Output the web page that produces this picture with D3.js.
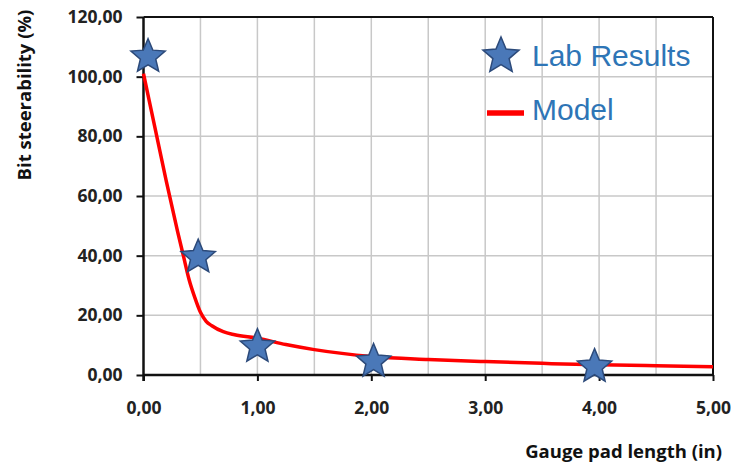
<!DOCTYPE html>
<html>
<head>
<meta charset="utf-8">
<script src="https://cdn.jsdelivr.net/npm/d3@7"></script>
<style>
  html, body { margin: 0; padding: 0; background: #fff; }
  svg { display: block; }
</style>
</head>
<body>
<svg id="chart" width="735" height="466"></svg>
<script>
// ---- data ----
const labX = [0.04, 0.48, 1.0, 2.02, 3.96];
const labY = [106.7, 39.5, 9.5, 4.5, 2.8];

const modelX = [0, 0.1, 0.2, 0.3, 0.35, 0.4, 0.45, 0.5, 0.55, 0.6, 0.7, 0.8, 1.0, 1.25, 1.5, 2.0, 2.5, 3.0, 3.5, 4.0, 4.5, 5.0];
const modelY = [101, 83, 65, 48, 40, 32, 26, 21, 18, 16.5, 14.5, 13.5, 12.3, 10.2, 8.5, 6.2, 5.2, 4.5, 3.9, 3.4, 3.1, 2.8];

const xTicks = [0, 1, 2, 3, 4, 5];
const xTickLabels = ["0,00", "1,00", "2,00", "3,00", "4,00", "5,00"];
const xGrid = [0.5, 1, 1.5, 2, 2.5, 3, 3.5, 4, 4.5];
const yTicks = [0, 20, 40, 60, 80, 100, 120];
const yTickLabels = ["0,00", "20,00", "40,00", "60,00", "80,00", "100,00", "120,00"];

const seriesNames = ["Lab Results", "Model"];
const xTitle = "Gauge pad length (in)";
const yTitle = "Bit steerability (%)";

(function () {
// ---- layout ----
const svg = d3.select("#chart");
const pL = 143.5, pR = 713, pT = 17, pB = 375;
const x = d3.scaleLinear().domain([0, 5]).range([pL, pR]);
const y = d3.scaleLinear().domain([0, 120]).range([pB, pT]);

const labelFont = "'Open Sans', 'DejaVu Sans', sans-serif";
const starFill = "#4a78b8", starStroke = "#2c4a7a";

function starPath(R) {
  const pts = [];
  const r = R * 0.45;
  for (let i = 0; i < 10; i++) {
    const a = -Math.PI / 2 + i * Math.PI / 5;
    const rr = i % 2 === 0 ? R : r;
    pts.push([Math.cos(a) * rr, Math.sin(a) * rr]);
  }
  return d3.line()(pts) + "Z";
}

// gridlines
const grid = svg.append("g");
grid.selectAll("line.v").data(xGrid).join("line").attr("class", "v")
  .attr("x1", d => x(d)).attr("x2", d => x(d))
  .attr("y1", pT).attr("y2", pB)
  .attr("stroke", "#c8c8c8").attr("stroke-width", 1.5);
grid.selectAll("line.h").data(yTicks.filter(d => d > 0 && d < 120)).join("line").attr("class", "h")
  .attr("x1", pL).attr("x2", pR)
  .attr("y1", d => y(d)).attr("y2", d => y(d))
  .attr("stroke", "#c8c8c8").attr("stroke-width", 1.5);

// frame top/right
svg.append("line").attr("x1", pL).attr("x2", pR).attr("y1", pT).attr("y2", pT)
  .attr("stroke", "#111").attr("stroke-width", 2);
svg.append("line").attr("x1", pR).attr("x2", pR).attr("y1", pT).attr("y2", pB)
  .attr("stroke", "#111").attr("stroke-width", 2);

// axes
const xAxis = d3.axisBottom(x).tickValues(xTicks)
  .tickFormat((d, i) => xTickLabels[i]).tickSize(6).tickPadding(21);
const yAxis = d3.axisLeft(y).tickValues(yTicks)
  .tickFormat((d, i) => yTickLabels[i]).tickSize(7).tickPadding(14);

const gx = svg.append("g").attr("transform", `translate(0,${pB})`).call(xAxis);
const gy = svg.append("g").attr("transform", `translate(${pL},0)`).call(yAxis);
[gx, gy].forEach(g => {
  g.select(".domain").attr("stroke", "#111").attr("stroke-width", 2.5);
  g.selectAll(".tick line").attr("stroke", "#111").attr("stroke-width", 2);
  g.selectAll(".tick text").attr("fill", "#222").attr("font-family", labelFont)
    .attr("font-weight", "bold").attr("font-size", 17.5);
});
gx.select(".domain").attr("d", `M${pL},0H${pR}`);
gy.select(".domain").attr("d", `M0,${pT}V${pB + 6}`);

// axis titles
svg.append("text").attr("x", 722).attr("y", 458).attr("text-anchor", "end")
  .attr("font-family", labelFont).attr("font-weight", "bold").attr("font-size", 18.5)
  .attr("fill", "#111").text(xTitle);
svg.append("text").attr("transform", "translate(31,95) rotate(-90)")
  .attr("text-anchor", "middle")
  .attr("font-family", labelFont).attr("font-weight", "bold").attr("font-size", 18.5)
  .attr("fill", "#111").text(yTitle);

// model line
const modelData = modelX.map((d, i) => [d, modelY[i]]);
svg.append("path").datum(modelData)
  .attr("d", d3.line().x(d => x(d[0])).y(d => y(d[1])).curve(d3.curveMonotoneX))
  .attr("fill", "none").attr("stroke", "#ff0000").attr("stroke-width", 3.5);

// lab stars
const labData = labX.map((d, i) => [d, labY[i]]);
svg.append("g").selectAll("path").data(labData).join("path")
  .attr("transform", d => `translate(${x(d[0])},${y(d[1])})`)
  .attr("d", starPath(18))
  .attr("fill", starFill).attr("stroke", starStroke).attr("stroke-width", 1.5);

// legend
const lg = svg.append("g");
lg.append("path").attr("transform", "translate(501,56)").attr("d", starPath(19))
  .attr("fill", starFill).attr("stroke", starStroke).attr("stroke-width", 1.5);
lg.append("line").attr("x1", 487).attr("x2", 524).attr("y1", 113).attr("y2", 113)
  .attr("stroke", "#ff0000").attr("stroke-width", 5.5);
lg.append("text").attr("x", 532).attr("y", 66).text(seriesNames[0]);
lg.append("text").attr("x", 532).attr("y", 120).text(seriesNames[1]);
lg.selectAll("text").attr("font-family", "'Liberation Sans', Arial, sans-serif")
  .attr("font-size", 30).attr("fill", "#2e75b6");
})();
</script>
</body>
</html>
